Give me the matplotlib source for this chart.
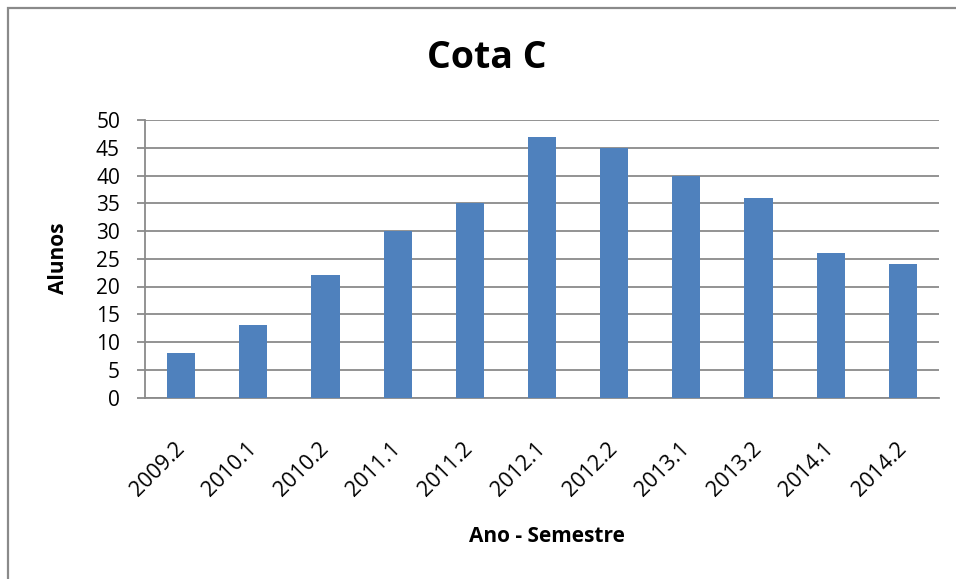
import matplotlib
matplotlib.use("Agg")
import matplotlib.pyplot as plt
from matplotlib.patches import Rectangle

plt.rcParams['font.family'] = ['Open Sans', 'DejaVu Sans']

semestres = ["2009.2", "2010.1", "2010.2", "2011.1", "2011.2", "2012.1",
             "2012.2", "2013.1", "2013.2", "2014.1", "2014.2"]
alunos = [8, 13, 22, 30, 35, 47, 45, 40, 36, 26, 24]

W, H = 956, 579
GRAY = "#8a8a8a"
BLUE = "#4f81bd"

fig = plt.figure(figsize=(W / 100, H / 100), dpi=100)
ax = fig.add_axes([145 / W, 1 - 397.5 / H, (939 - 145) / W, (397.5 - 120) / H])

x = range(len(semestres))
ax.bar(x, alunos, width=0.39, color=BLUE, zorder=3)
ax.set_xlim(-0.5, len(semestres) - 0.5)
ax.set_ylim(0, 50)
ax.set_yticks(range(0, 51, 5))
ax.grid(axis="y", color=GRAY, lw=1.3, zorder=0)

for s in ["top", "right"]:
    ax.spines[s].set_visible(False)
for s in ["left", "bottom"]:
    ax.spines[s].set_color(GRAY)
    ax.spines[s].set_linewidth(1.3)

ax.tick_params(axis="y", length=6, width=1.3, color=GRAY, pad=12, labelsize=15)
ax.tick_params(axis="x", length=0, pad=35, labelsize=15.5)
ax.set_xticks(list(x))
ax.set_xticklabels(semestres, rotation=45, ha="right", va="center",
                   rotation_mode="anchor")

fig.text(487 / W, 1 - 58 / H, "Cota C", ha="center", va="center",
         fontsize=27, fontweight="bold")
fig.text(58 / W, 1 - 258 / H, "Alunos", ha="center", va="center",
         rotation=90, fontsize=15, fontweight="bold")
fig.text(547 / W, 1 - 537 / H, "Ano - Semestre", ha="center", va="center",
         fontsize=15, fontweight="bold")

# chart frame (cropped at right and bottom)
fig.add_artist(Rectangle((8 / W, -0.1), 1.2, 1.1 - 8 / H,
                         transform=fig.transFigure, fill=False,
                         edgecolor=GRAY, lw=1.6, clip_on=False))

fig.savefig("out.png", dpi=100)
